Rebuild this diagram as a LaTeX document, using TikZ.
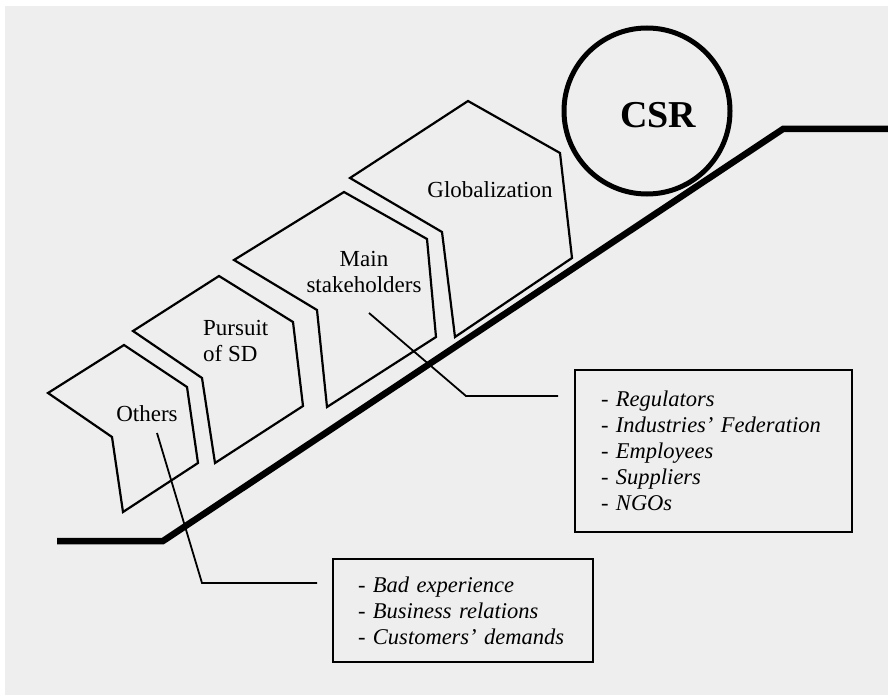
\documentclass[tikz,border=0pt]{standalone}
\usepackage{fontspec}
\setmainfont{Liberation Serif}
\usetikzlibrary{positioning}
\definecolor{paper}{RGB}{238,238,238}

\begin{document}
\begin{tikzpicture}[
    x=1pt, y=-1pt,
    chevron/.style={draw, line width=2.2pt, line join=miter},
    ramp/.style={draw, line width=6.5pt, line join=miter},
    shapetext/.style={inner sep=0pt, font=\fontsize{23}{26}\selectfont},
    listbox/.style={draw, line width=2pt, inner xsep=26pt, inner ysep=0pt, align=left,
                    font=\fontsize{22.5}{26}\selectfont\itshape},
    leader/.style={draw, line width=1.8pt}
]

% SFONDO
\useasboundingbox (0,0) rectangle (888,695);
\fill[paper] (5,6) rectangle (888,695);

% RAMPA
\draw[ramp] (57,541) -- (163,541) -- (783,129) -- (888,129);

% CSR
\node[circle, draw, line width=5pt, minimum size=166pt, inner sep=0pt] (csr) at (647,111) {};
\node[font=\fontsize{38}{40}\selectfont\bfseries, inner sep=0pt] (csrtext) at (658,115.5) {CSR};

% FATTORI
\draw[chevron] (48,393) -- (124,345) -- (187,387) -- (198,463) -- (123,512) -- (112,437) -- cycle;
\draw[chevron] (133,331) -- (219,276) -- (293,322) -- (303,406) -- (215,463) -- (202,378) -- cycle;
\draw[chevron] (234,260) -- (344,192) -- (427,239) -- (436,337) -- (327,407) -- (317,310) -- cycle;
\draw[chevron] (350,178) -- (468,101) -- (560,153) -- (572,258) -- (455,337) -- (442,232) -- cycle;

\node[shapetext] (others) at (147,413.5) {Others};
\node[shapetext, align=left, anchor=west] (pursuit) at (203,341) {Pursuit\\of SD};
\node[shapetext, align=center] (stakeholders) at (364,272) {Main\\stakeholders};
\node[shapetext] (globalization) at (490,190) {Globalization};

% ELENCHI
\node[listbox, minimum width=277pt, minimum height=162pt, text width=225pt] (stakebox) at (713.5,451)
    {- Regulators\\- Industries' Federation\\- Employees\\- Suppliers\\- NGOs};
\node[listbox, inner xsep=25pt, minimum width=260pt, minimum height=103pt, text width=210pt] (otherbox) at (463,610.5)
    {- Bad experience\\- Business relations\\- Customers' demands};

% RICHIAMI
\coordinate (stakeptr) at (369,313);
\coordinate (stakebend) at (466,396);
\coordinate (stakeend) at (558,396);
\draw[leader] (stakeptr) -- (stakebend) -- (stakeend);

\coordinate (othersptr) at (157,433);
\coordinate (othersbend) at (202,583);
\coordinate (othersend) at (317,583);
\draw[leader] (othersptr) -- (othersbend) -- (othersend);

\end{tikzpicture}
\end{document}
